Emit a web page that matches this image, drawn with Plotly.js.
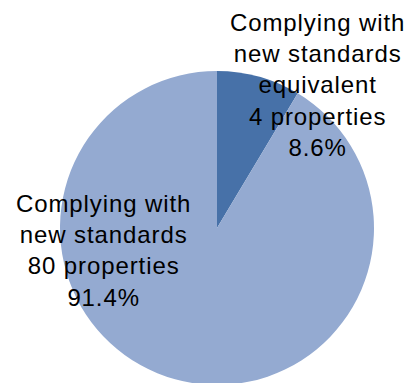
<!DOCTYPE html>
<html>
<head>
<meta charset="utf-8">
<script src="https://cdn.plot.ly/plotly-3.0.1.min.js"></script>
<style>
html, body { margin: 0; padding: 0; overflow: hidden; background: #fff; }
#chart { width: 410px; height: 400px; }
.annotation-text { letter-spacing: 0.9px; }
</style>
</head>
<body>
<div id="chart"></div>
<script>
const categories = ["Complying with<br>new standards<br>equivalent", "Complying with<br>new standards"];
const propertyCounts = [4, 80];
const shares = [8.6, 91.4];
const colors = ["#4771A8", "#94AAD1"];

const H = 400;
const labelPos = [
  {x: 317, y: 85},
  {x: 103, y: 251}
];

const annotations = categories.map((c, i) => ({
  xref: "paper", yref: "paper",
  x: labelPos[i].x / 410, y: (H - labelPos[i].y) / H,
  xanchor: "center", yanchor: "middle",
  align: "center",
  showarrow: false,
  text: c + "<br>" + propertyCounts[i] + " properties<br>" + shares[i].toFixed(1) + "%",
  font: {family: "Liberation Sans, Arial, sans-serif", size: 24, color: "#000"}
}));

Plotly.newPlot("chart", [{
  type: "pie",
  values: shares,
  labels: categories,
  sort: false,
  direction: "clockwise",
  rotation: 0,
  textinfo: "none",
  hoverinfo: "none",
  marker: {colors: colors, line: {width: 0}},
  domain: {x: [60/410, 374/410], y: [(H - 228 - 157)/H, (H - 228 + 157)/H]}
}], {
  width: 410, height: H,
  margin: {l: 0, r: 0, t: 0, b: 0},
  showlegend: false,
  paper_bgcolor: "#fff",
  annotations: annotations
}, {displayModeBar: false, staticPlot: true});
</script>
</body>
</html>
